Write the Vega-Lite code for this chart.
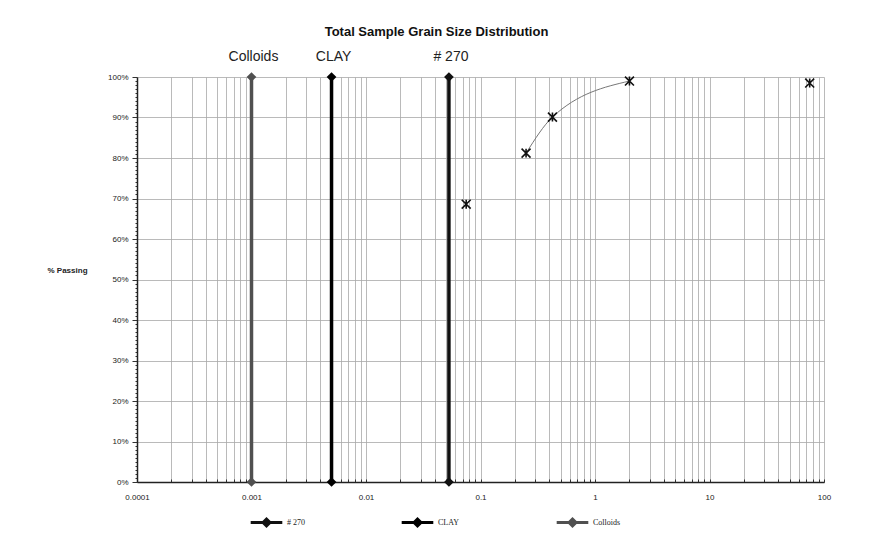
{
  "$schema": "https://vega.github.io/schema/vega-lite/v6.json",
  "width": 687,
  "height": 405,
  "autosize": {"type": "none"},
  "padding": {"left": 137, "top": 77, "right": 53, "bottom": 61},
  "background": "white",
  "title": {
    "text": "Total Sample Grain Size Distribution",
    "font": "Liberation Sans",
    "fontSize": 13,
    "fontWeight": "bold",
    "color": "#111",
    "frame": "group",
    "anchor": "middle",
    "baseline": "bottom",
    "dx": -44,
    "offset": -2
  },
  "config": {
    "view": {"stroke": null},
    "font": "Liberation Sans",
    "axis": {
      "labelFont": "Liberation Sans",
      "labelFontSize": 8,
      "labelColor": "#222",
      "domainColor": "#222",
      "tickColor": "#333",
      "gridColor": "#a8a8a8",
      "gridWidth": 0.8,
      "labelOverlap": false,
      "labelBound": false,
      "labelFlush": false
    }
  },
  "datasets": {
    "refs": [
      {"series": "# 270", "size": 0.053, "pct": 0},
      {"series": "# 270", "size": 0.053, "pct": 1},
      {"series": "CLAY", "size": 0.005, "pct": 0},
      {"series": "CLAY", "size": 0.005, "pct": 1},
      {"series": "Colloids", "size": 0.001, "pct": 0},
      {"series": "Colloids", "size": 0.001, "pct": 1}
    ],
    "grad": [
      {"size": 0.075, "pct": 0.686},
      {"size": 0.25, "pct": 0.812},
      {"size": 0.425, "pct": 0.901},
      {"size": 2.0, "pct": 0.99},
      {"size": 75, "pct": 0.985}
    ]
  },
  "layer": [
    {
      "data": {"name": "refs"},
      "mark": {"type": "line", "strokeWidth": 3.5},
      "encoding": {
        "x": {
          "field": "size",
          "type": "quantitative",
          "scale": {"type": "log", "domain": [0.0001, 100]},
          "axis": {
            "title": null,
            "values": [0.0001,0.0002,0.0003,0.0004,0.0005,0.0006,0.0007,0.0008,0.0009,
                       0.001,0.002,0.003,0.004,0.005,0.006,0.007,0.008,0.009,
                       0.01,0.02,0.03,0.04,0.05,0.06,0.07,0.08,0.09,
                       0.1,0.2,0.3,0.4,0.5,0.6,0.7,0.8,0.9,
                       1,2,3,4,5,6,7,8,9,
                       10,20,30,40,50,60,70,80,90,100],
            "labelExpr": "indexof([0.0001,0.001,0.01,0.1,1,10,100], datum.value) >= 0 ? format(datum.value, '~g') : ''",
            "grid": true,
            "tickSize": -3,
            "labelPadding": 14,
            "domainWidth": 1.5
          }
        },
        "y": {
          "field": "pct",
          "type": "quantitative",
          "scale": {"domain": [0, 1]},
          "axis": {
            "title": "% Passing",
            "titleAngle": 0,
            "titleAlign": "left",
            "titleBaseline": "middle",
            "titleX": -90,
            "titleY": 193,
            "titleFont": "Liberation Sans",
            "titleFontSize": 8,
            "titleFontWeight": "bold",
            "titleColor": "#222",
            "tickCount": 100,
            "labelExpr": "round(datum.value*100) % 10 == 0 ? format(datum.value, '.0%') : ''",
            "grid": true,
            "gridOpacity": {"condition": {"test": "round(datum.value*100) % 10 == 0", "value": 1}, "value": 0},
            "tickSize": {"condition": {"test": "round(datum.value*100) % 10 == 0", "value": 5}, "value": 2},
            "labelPadding": 4,
            "domainWidth": 1.5
          }
        },
        "color": {
          "field": "series",
          "type": "nominal",
          "scale": {"domain": ["# 270", "CLAY", "Colloids"], "range": ["#111111", "#000000", "#505050"]},
          "legend": {
            "title": null,
            "orient": "none",
            "legendX": 112,
            "legendY": 428,
            "direction": "horizontal",
            "symbolType": "M-1,0L1,0M-0.22,0L0,-0.22L0.22,0L0,0.22Z",
            "symbolSize": 1000,
            "symbolStrokeWidth": 3,
            "labelFont": "Liberation Serif",
            "labelFontSize": 8,
            "labelColor": "#222",
            "columnPadding": 90,
            "gridAlign": "none",
            "labelOffset": 3,
            "encode": {"symbols": {"update": {"fill": {"scale": "color", "field": "value"}}}}
          }
        }
      }
    },
    {
      "data": {"name": "refs"},
      "mark": {"type": "point", "shape": "diamond", "filled": true, "size": 95, "opacity": 1},
      "encoding": {
        "x": {"field": "size", "type": "quantitative"},
        "y": {"field": "pct", "type": "quantitative"},
        "color": {"field": "series", "type": "nominal", "legend": null}
      }
    },
    {
      "data": {"name": "refs"},
      "transform": [{"filter": "datum.pct == 1"}],
      "mark": {"type": "text", "font": "Liberation Sans", "fontSize": 14, "baseline": "middle", "align": "center", "color": "#222", "dx": 2},
      "encoding": {
        "x": {"field": "size", "type": "quantitative"},
        "y": {"datum": 1.05, "type": "quantitative"},
        "text": {"field": "series"}
      }
    },
    {
      "data": {"name": "grad"},
      "transform": [{"filter": "datum.size >= 0.2 && datum.size <= 3"}],
      "mark": {"type": "line", "color": "#777", "strokeWidth": 1, "interpolate": "monotone"},
      "encoding": {
        "x": {"field": "size", "type": "quantitative"},
        "y": {"field": "pct", "type": "quantitative"}
      }
    },
    {
      "data": {"name": "grad"},
      "mark": {"type": "point", "shape": "M-1,-1L1,1M-1,1L1,-1M0,-1L0,1", "filled": false, "stroke": "#111", "strokeWidth": 1.6, "size": 80, "opacity": 1},
      "encoding": {
        "x": {"field": "size", "type": "quantitative"},
        "y": {"field": "pct", "type": "quantitative"}
      }
    }
  ]
}
